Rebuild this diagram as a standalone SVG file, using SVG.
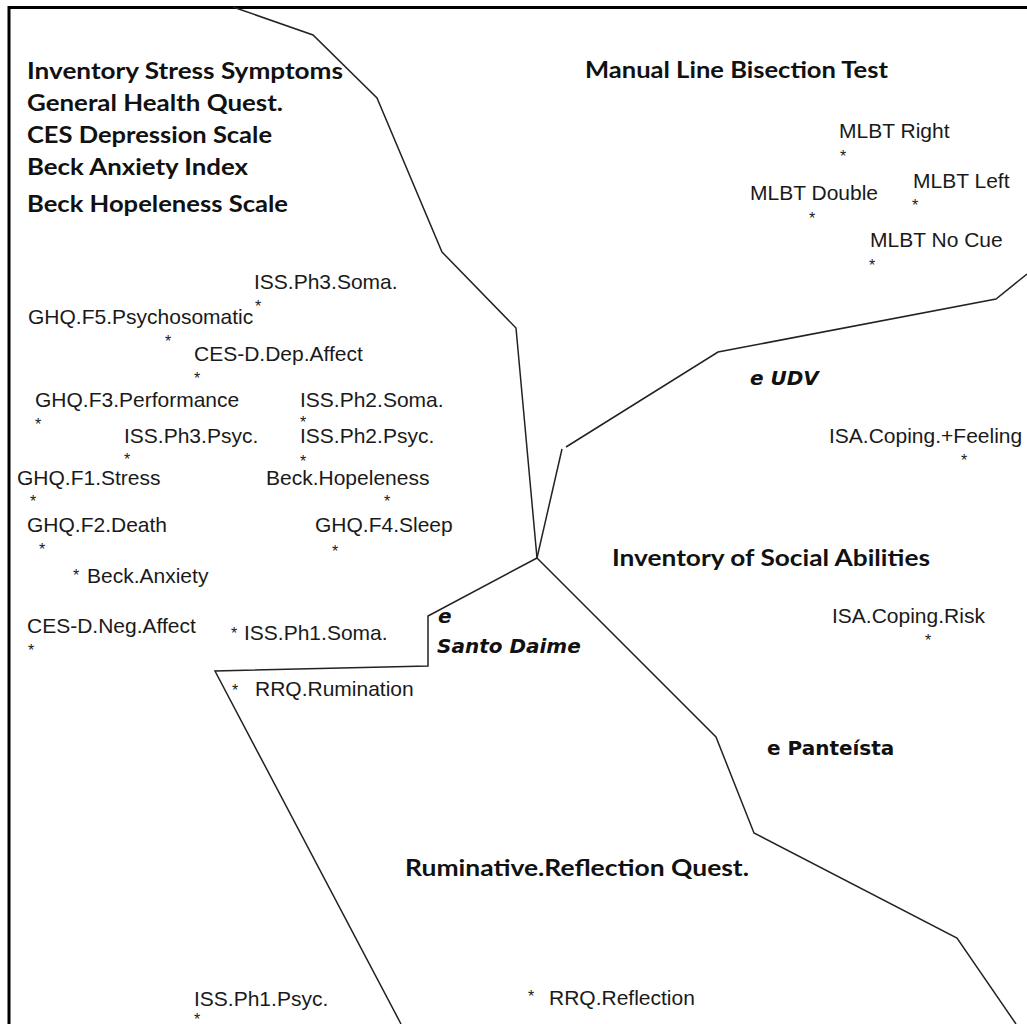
<svg xmlns="http://www.w3.org/2000/svg" width="1027" height="1024" viewBox="0 0 1027 1024">
<defs>
<style>
.bg{fill:#ffffff}
.frame{fill:none;stroke:#000;stroke-width:3}
.ln{fill:none;stroke:#222;stroke-width:1.5;stroke-linejoin:miter}
.lbl{font-family:"Liberation Sans",Arial,sans-serif;font-size:21px;fill:#1a1a1a}
.st{font-family:"Liberation Sans",Arial,sans-serif;font-size:16px;fill:#1a1a1a}
.hd{font-family:Lato,"Open Sans",sans-serif;font-weight:700;font-size:22px;fill:#111}
.gr{font-family:"DejaVu Sans",sans-serif;font-weight:700;font-size:20px;fill:#111}
.it{font-style:oblique}
</style>
</defs>
<rect class="bg" x="0" y="0" width="1027" height="1024"/>
<path class="frame" d="M9,1024 V7.5 H1027"/>

<g id="connectors">
<polyline class="ln" points="233,7 313,35 377,98 442,252 516,328 537,558"/>
<polyline class="ln" points="1027,274 996,299 718,352 566,447"/>
<line class="ln" x1="562" y1="449" x2="537" y2="558"/>
<polyline class="ln" points="537,558 428,616 428,666 215,671 401,1024"/>
<polyline class="ln" points="537,558 716,737 754,833 957,938 1016,1024"/>
</g>

<g id="headings">
<text class="hd" x="27" y="79" textLength="316" lengthAdjust="spacingAndGlyphs">Inventory Stress Symptoms</text>
<text class="hd" x="27" y="111" textLength="256" lengthAdjust="spacingAndGlyphs">General Health Quest.</text>
<text class="hd" x="27" y="143" textLength="245" lengthAdjust="spacingAndGlyphs">CES Depression Scale</text>
<text class="hd" x="27" y="175" textLength="221" lengthAdjust="spacingAndGlyphs">Beck Anxiety Index</text>
<text class="hd" x="27" y="212" textLength="261" lengthAdjust="spacingAndGlyphs">Beck Hopeleness Scale</text>
<text class="hd" x="585" y="78" textLength="303" lengthAdjust="spacingAndGlyphs">Manual Line Bisection Test</text>
<text class="hd" x="612" y="566" textLength="318" lengthAdjust="spacingAndGlyphs">Inventory of Social Abilities</text>
<text class="hd" x="405" y="876" textLength="344" lengthAdjust="spacingAndGlyphs">Ruminative.Reflection Quest.</text>
</g>

<g id="groups">
<text class="gr it" x="750" y="385">e UDV</text>
<text class="gr it" x="438" y="623">e</text>
<text class="gr it" x="437" y="653">Santo Daime</text>
<text class="gr" x="767" y="755">e Panteísta</text>
</g>

<g id="n-mlbt-right"><text class="lbl" x="839" y="138">MLBT Right</text><text class="st" x="840" y="162">*</text></g>
<g id="n-mlbt-double"><text class="lbl" x="750" y="200">MLBT Double</text><text class="st" x="809" y="224">*</text></g>
<g id="n-mlbt-left"><text class="lbl" x="913" y="188">MLBT Left</text><text class="st" x="912" y="211">*</text></g>
<g id="n-mlbt-nocue"><text class="lbl" x="870" y="247">MLBT No Cue</text><text class="st" x="869" y="271">*</text></g>

<g id="n-iss-ph3-soma"><text class="lbl" x="254" y="289">ISS.Ph3.Soma.</text><text class="st" x="255" y="312">*</text></g>
<g id="n-ghq-f5"><text class="lbl" x="28" y="324">GHQ.F5.Psychosomatic</text><text class="st" x="165" y="347">*</text></g>
<g id="n-cesd-dep"><text class="lbl" x="194" y="361">CES-D.Dep.Affect</text><text class="st" x="194" y="384">*</text></g>
<g id="n-ghq-f3"><text class="lbl" x="35" y="407">GHQ.F3.Performance</text><text class="st" x="35" y="430">*</text></g>
<g id="n-iss-ph2-soma"><text class="lbl" x="300" y="407">ISS.Ph2.Soma.</text><text class="st" x="300" y="428">*</text></g>
<g id="n-iss-ph3-psyc"><text class="lbl" x="124" y="443">ISS.Ph3.Psyc.</text><text class="st" x="124" y="465">*</text></g>
<g id="n-iss-ph2-psyc"><text class="lbl" x="300" y="443">ISS.Ph2.Psyc.</text><text class="st" x="300" y="467">*</text></g>
<g id="n-ghq-f1"><text class="lbl" x="17" y="485">GHQ.F1.Stress</text><text class="st" x="30" y="507">*</text></g>
<g id="n-beck-hope"><text class="lbl" x="266" y="485">Beck.Hopeleness</text><text class="st" x="384" y="507">*</text></g>
<g id="n-ghq-f2"><text class="lbl" x="27" y="532">GHQ.F2.Death</text><text class="st" x="39" y="555">*</text></g>
<g id="n-ghq-f4"><text class="lbl" x="315" y="532">GHQ.F4.Sleep</text><text class="st" x="332" y="557">*</text></g>
<g id="n-beck-anx"><text class="st" x="73" y="581">*</text><text class="lbl" x="87" y="583">Beck.Anxiety</text></g>
<g id="n-cesd-neg"><text class="lbl" x="27" y="633">CES-D.Neg.Affect</text><text class="st" x="28" y="656">*</text></g>
<g id="n-iss-ph1-soma"><text class="st" x="231" y="639">*</text><text class="lbl" x="244" y="640">ISS.Ph1.Soma.</text></g>
<g id="n-rrq-rum"><text class="st" x="232" y="696">*</text><text class="lbl" x="255" y="696">RRQ.Rumination</text></g>
<g id="n-iss-ph1-psyc"><text class="lbl" x="194" y="1006">ISS.Ph1.Psyc.</text><text class="st" x="194" y="1025">*</text></g>
<g id="n-rrq-ref"><text class="st" x="528" y="1002">*</text><text class="lbl" x="549" y="1005">RRQ.Reflection</text></g>

<g id="n-isa-feeling"><text class="lbl" x="829" y="443">ISA.Coping.+Feeling</text><text class="st" x="961" y="466">*</text></g>
<g id="n-isa-risk"><text class="lbl" x="832" y="623">ISA.Coping.Risk</text><text class="st" x="925" y="646">*</text></g>
</svg>
